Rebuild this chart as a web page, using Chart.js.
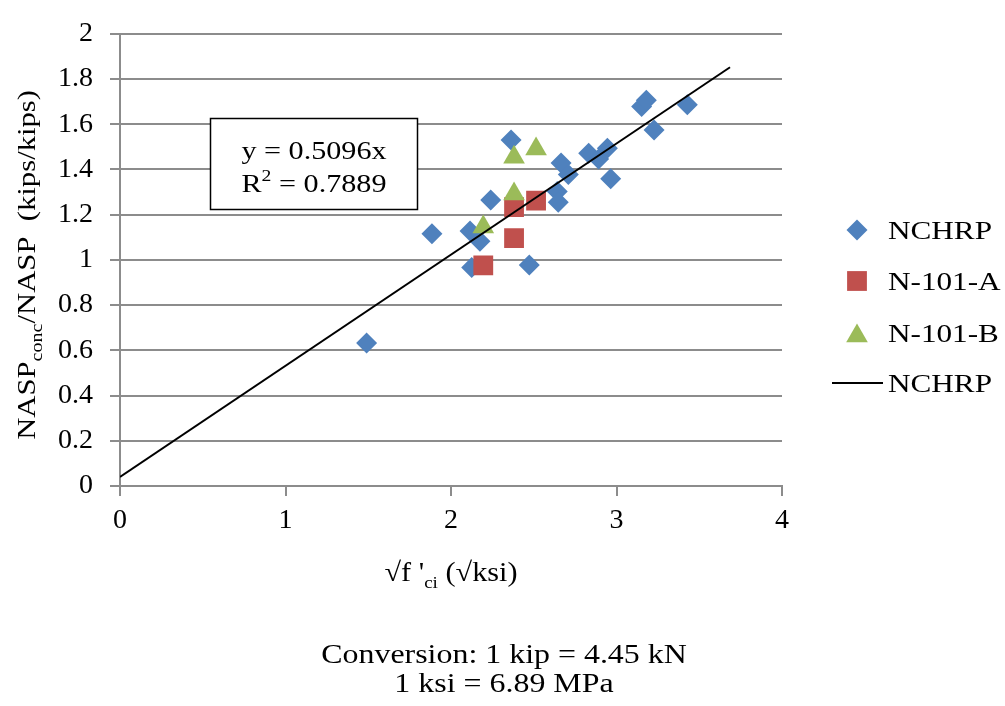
<!DOCTYPE html>
<html>
<head>
<meta charset="utf-8">
<script src="https://cdn.jsdelivr.net/npm/chart.js@4.4.1/dist/chart.umd.min.js"></script>
<style>
  body { margin: 0; background: #fff; }
  canvas { display: block; }
</style>
</head>
<body>
<canvas id="chart" width="1005" height="706"></canvas>
<script>
/* --------------- Data --------------------- */
const nchrpX = [1.49, 1.885, 2.115, 2.125, 2.175, 2.24, 2.363, 2.473, 2.642, 2.648, 2.665, 2.709, 2.832, 2.892, 2.945, 2.965, 3.152, 3.18, 3.227, 3.428];
const nchrpY = [0.633, 1.116, 1.128, 0.966, 1.082, 1.265, 1.53, 0.977, 1.302, 1.255, 1.429, 1.378, 1.472, 1.446, 1.494, 1.359, 1.678, 1.706, 1.574, 1.686];
const n101aX = [2.195, 2.381, 2.381, 2.514];
const n101aY = [0.976, 1.096, 1.233, 1.262];
const n101bX = [2.195, 2.381, 2.381, 2.514];
const n101bY = [1.146, 1.291, 1.454, 1.49];
const trendX = [0, 3.686];
const trendY = [0.04, 1.852];

const seriesNames = ["NCHRP", "N-101-A", "N-101-B", "NCHRP"];
const seriesColors = ["#4F81BD", "#C0504D", "#9BBB59", "#000000"];

const FONT = '"Liberation Serif", "Times New Roman", serif';
const GRID = "#8c8c8c";

const toPoints = (xs, ys) => xs.map((x, i) => ({ x: x, y: ys[i] }));

/* --------------- Text helper (slightly widened serif) --------------------- */
function drawParts(ctx, parts, x, y, sx, rotate) {
  let w = 0;
  parts.forEach(p => { ctx.font = p[1] + "px " + FONT; w += ctx.measureText(p[0]).width; });
  ctx.save();
  ctx.translate(x, y);
  if (rotate) ctx.rotate(rotate);
  ctx.scale(sx, 1);
  ctx.fillStyle = "#000";
  ctx.textAlign = "left";
  ctx.textBaseline = "alphabetic";
  let cx = -w / 2;
  parts.forEach(p => {
    ctx.font = p[1] + "px " + FONT;
    ctx.fillText(p[0], cx, p[2] || 0);
    cx += ctx.measureText(p[0]).width;
  });
  ctx.restore();
}

/* --------------- Extras: titles, equation box, legend, notes --------------------- */
const extras = {
  id: "extras",
  afterDraw(chart) {
    const ctx = chart.ctx;
    const area = chart.chartArea;

    // y axis title
    drawParts(ctx, [["NASP", 26], ["conc", 17, 7], ["/NASP  (kips/kips)", 26]], 35, (area.top + area.bottom) / 2 + 5, 1.18, -Math.PI / 2);
    // x axis title
    drawParts(ctx, [["\u221Af '", 27], ["ci", 17, 7], [" (\u221Aksi)", 27]], (area.left + area.right) / 2, 581, 1.12);

    // equation box
    ctx.save();
    ctx.fillStyle = "#fff";
    ctx.strokeStyle = "#000";
    ctx.lineWidth = 1.5;
    ctx.fillRect(210, 118, 208, 92);
    ctx.strokeRect(210.5, 118.5, 207, 91);
    ctx.restore();
    drawParts(ctx, [["y = 0.5096x", 26]], 314, 159, 1.16);
    drawParts(ctx, [["R", 26], ["2", 17, -11], [" = 0.7889", 26]], 314, 192, 1.16);

    // legend
    const styles = ["rectRot", "rect", "triangle"];
    const radii = [10.5, 14, 12.5];
    const rows = [230, 281, 333, 383];
    seriesNames.forEach((name, i) => {
      ctx.save();
      if (i < 3) {
        ctx.fillStyle = seriesColors[i];
        Chart.helpers.drawPoint(ctx, { pointStyle: styles[i], radius: radii[i], rotation: 0, borderWidth: 0 }, 857, rows[i] + (i === 2 ? 3 : 0));
      } else {
        ctx.strokeStyle = "#000";
        ctx.lineWidth = 2;
        ctx.beginPath();
        ctx.moveTo(832, rows[i]);
        ctx.lineTo(883, rows[i]);
        ctx.stroke();
      }
      ctx.restore();
      ctx.save();
      ctx.translate(888, rows[i] + 9);
      ctx.scale(1.2, 1);
      ctx.font = "26px " + FONT;
      ctx.fillStyle = "#000";
      ctx.textAlign = "left";
      ctx.fillText(name, 0, 0);
      ctx.restore();
    });

    // conversion note
    drawParts(ctx, [["Conversion: 1 kip = 4.45 kN", 28]], 504, 663, 1.14);
    drawParts(ctx, [["1 ksi = 6.89 MPa", 28]], 504, 692, 1.14);
  }
};

/* --------------- Chart --------------------- */
const chart = new Chart(document.getElementById("chart"), {
  type: "scatter",
  plugins: [extras],
  data: {
    datasets: [
      {
        label: seriesNames[0],
        data: toPoints(nchrpX, nchrpY),
        pointStyle: "rectRot",
        pointRadius: 10.5,
        backgroundColor: seriesColors[0],
        borderWidth: 0,
        order: 4,
      },
      {
        label: seriesNames[1],
        data: toPoints(n101aX, n101aY),
        pointStyle: "rect",
        pointRadius: 14,
        backgroundColor: seriesColors[1],
        borderWidth: 0,
        order: 3,
      },
      {
        label: seriesNames[2],
        data: toPoints(n101bX, n101bY),
        pointStyle: "triangle",
        pointRadius: 12.5,
        backgroundColor: seriesColors[2],
        borderWidth: 0,
        order: 2,
      },
      {
        label: seriesNames[3],
        data: toPoints(trendX, trendY),
        showLine: true,
        borderColor: seriesColors[3],
        borderWidth: 2,
        pointRadius: 0,
        order: 1,
      },
    ],
  },
  options: {
    responsive: false,
    animation: false,
    layout: { padding: { top: 25, right: 223, left: 0, bottom: 0 } },
    plugins: {
      legend: { display: false },
      tooltip: { enabled: false },
    },
    scales: {
      x: {
        type: "linear",
        min: 0,
        max: 4,
        afterFit: (scale) => { scale.height = 220; },
        ticks: {
          stepSize: 1,
          color: "#000",
          padding: 8,
          font: { family: FONT, size: 28 },
        },
        grid: { drawOnChartArea: false, color: GRID, lineWidth: 2, tickLength: 10 },
        border: { color: GRID, width: 2 },
      },
      y: {
        min: 0,
        max: 2,
        afterFit: (scale) => { scale.width = 120; },
        ticks: {
          stepSize: 0.2,
          color: "#000",
          padding: 17,
          font: { family: FONT, size: 28 },
          callback: (v) => +v.toFixed(1),
        },
        grid: { color: GRID, lineWidth: 2, tickLength: 10 },
        border: { color: GRID, width: 2 },
      },
    },
  },
});
</script>
</body>
</html>
